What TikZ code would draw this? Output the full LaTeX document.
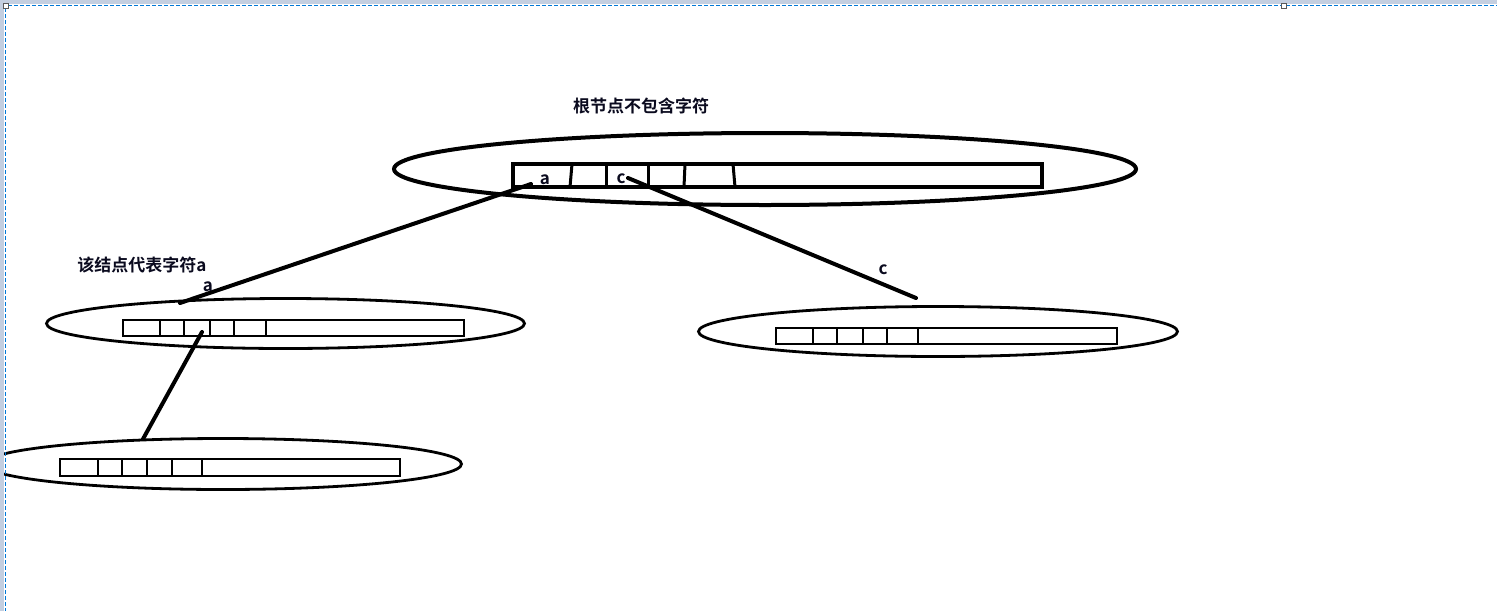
\documentclass[tikz,border=0pt]{standalone}
\usepackage{fontspec}
\setmainfont{Noto Sans CJK SC}[BoldFont={Noto Sans CJK SC Bold}]
\usepackage{xcolor}
\usetikzlibrary{shapes.geometric, positioning, calc}
\definecolor{inkblack}{RGB}{10,10,30}
\definecolor{frameblue}{RGB}{196,207,224}
\definecolor{dashblue}{RGB}{0,120,215}

\begin{document}
\begin{tikzpicture}[
  x=1pt, y=-1pt,
  trienode/.style = {ellipse, draw=black, line width=#1, inner sep=0pt},
  triearr/.style  = {rectangle, draw=black, line width=#1, inner sep=0pt},
  edge/.style     = {line width=4pt, line cap=round, black},
  lbl/.style      = {font=\fontsize{17}{19}\selectfont\bfseries, text=inkblack, inner sep=0pt},
]
\useasboundingbox (0,0) rectangle (1497,611);
\fill[white] (0,0) rectangle (1497,611);

% ── Root node ────────────────────────────────────────────────────────────────
\node[trienode=4pt, minimum width=742pt, minimum height=72pt] (rootell) at (765,169) {};
\node[triearr=4pt, minimum width=529pt, minimum height=23pt] (rootarr) at (777.5,175.5) {};
\foreach \xt/\xb in {572/570, 606/606, 648/648, 685/684, 733/735}
  \draw[line width=3pt] (\xt,164) -- (\xb,187);

% ── Child node a (left) ──────────────────────────────────────────────────────
\node[trienode=2.8pt, minimum width=478pt, minimum height=50pt] (nodea) at (285.5,323.5) {};
\node[triearr=2.8pt, minimum width=341pt, minimum height=16pt] (arra) at (293.5,328) {};
\foreach \x in {160,184,210,234,266}
  \draw[line width=2pt] (\x,320) -- (\x,336);

% ── Child node c (right) ─────────────────────────────────────────────────────
\node[trienode=2.8pt, minimum width=479pt, minimum height=50pt] (nodec) at (938,331.5) {};
\node[triearr=2.8pt, minimum width=341pt, minimum height=16pt] (arrc) at (946.5,336) {};
\foreach \x in {813,837,863,887,918}
  \draw[line width=2pt] (\x,328) -- (\x,344);

% ── Grandchild node (bottom) ─────────────────────────────────────────────────
\node[trienode=2.8pt, minimum width=477pt, minimum height=51pt] (nodeaa) at (223,464) {};
\node[triearr=2.8pt, minimum width=340pt, minimum height=17pt] (arraa) at (230,467.5) {};
\foreach \x in {98,122,147,172,202}
  \draw[line width=2pt] (\x,459) -- (\x,476);

% ── Edge end points ──────────────────────────────────────────────────────────
\coordinate (slota) at (531,184);
\coordinate (slotc) at (628,178);
\coordinate (topa)  at (180,303);
\coordinate (topc)  at (916,298);
\coordinate (slotaa) at (202,332);
\coordinate (topaa)  at (143,439);

\draw[edge] (slota)  -- (topa);
\draw[edge] (slotc)  -- (topc);
\draw[edge] (slotaa) -- (topaa);

% ── Labels ───────────────────────────────────────────────────────────────────
\node[lbl] (roottitle) at (641,106) {根节点不包含字符};
\node[lbl] (nodeatitle) at (142,265) {该结点代表字符a};
\node[lbl] (rootla) at (545,180) {a};
\node[lbl] (rootlc) at (621,179) {c};
\node[lbl] (edgela) at (208,287) {a};
\node[lbl] (edgelc) at (883,270) {c};

% ── Canvas frame ─────────────────────────────────────────────────────────────
\fill[frameblue] (0,0) rectangle (1497,4);
\fill[frameblue] (0,0) rectangle (4,611);
\draw[dashblue, line width=1.2pt, dash pattern=on 4pt off 2pt] (8,5.5) -- (1497,5.5);
\draw[dashblue, line width=1.2pt, dash pattern=on 4pt off 2pt] (5.5,8) -- (5.5,611);
\draw[gray!70!black, fill=white, line width=0.8pt] (3,3) rectangle (8,8);
\draw[gray!70!black, fill=white, line width=0.8pt] (1281,3) rectangle (1286,8);
\end{tikzpicture}
\end{document}
